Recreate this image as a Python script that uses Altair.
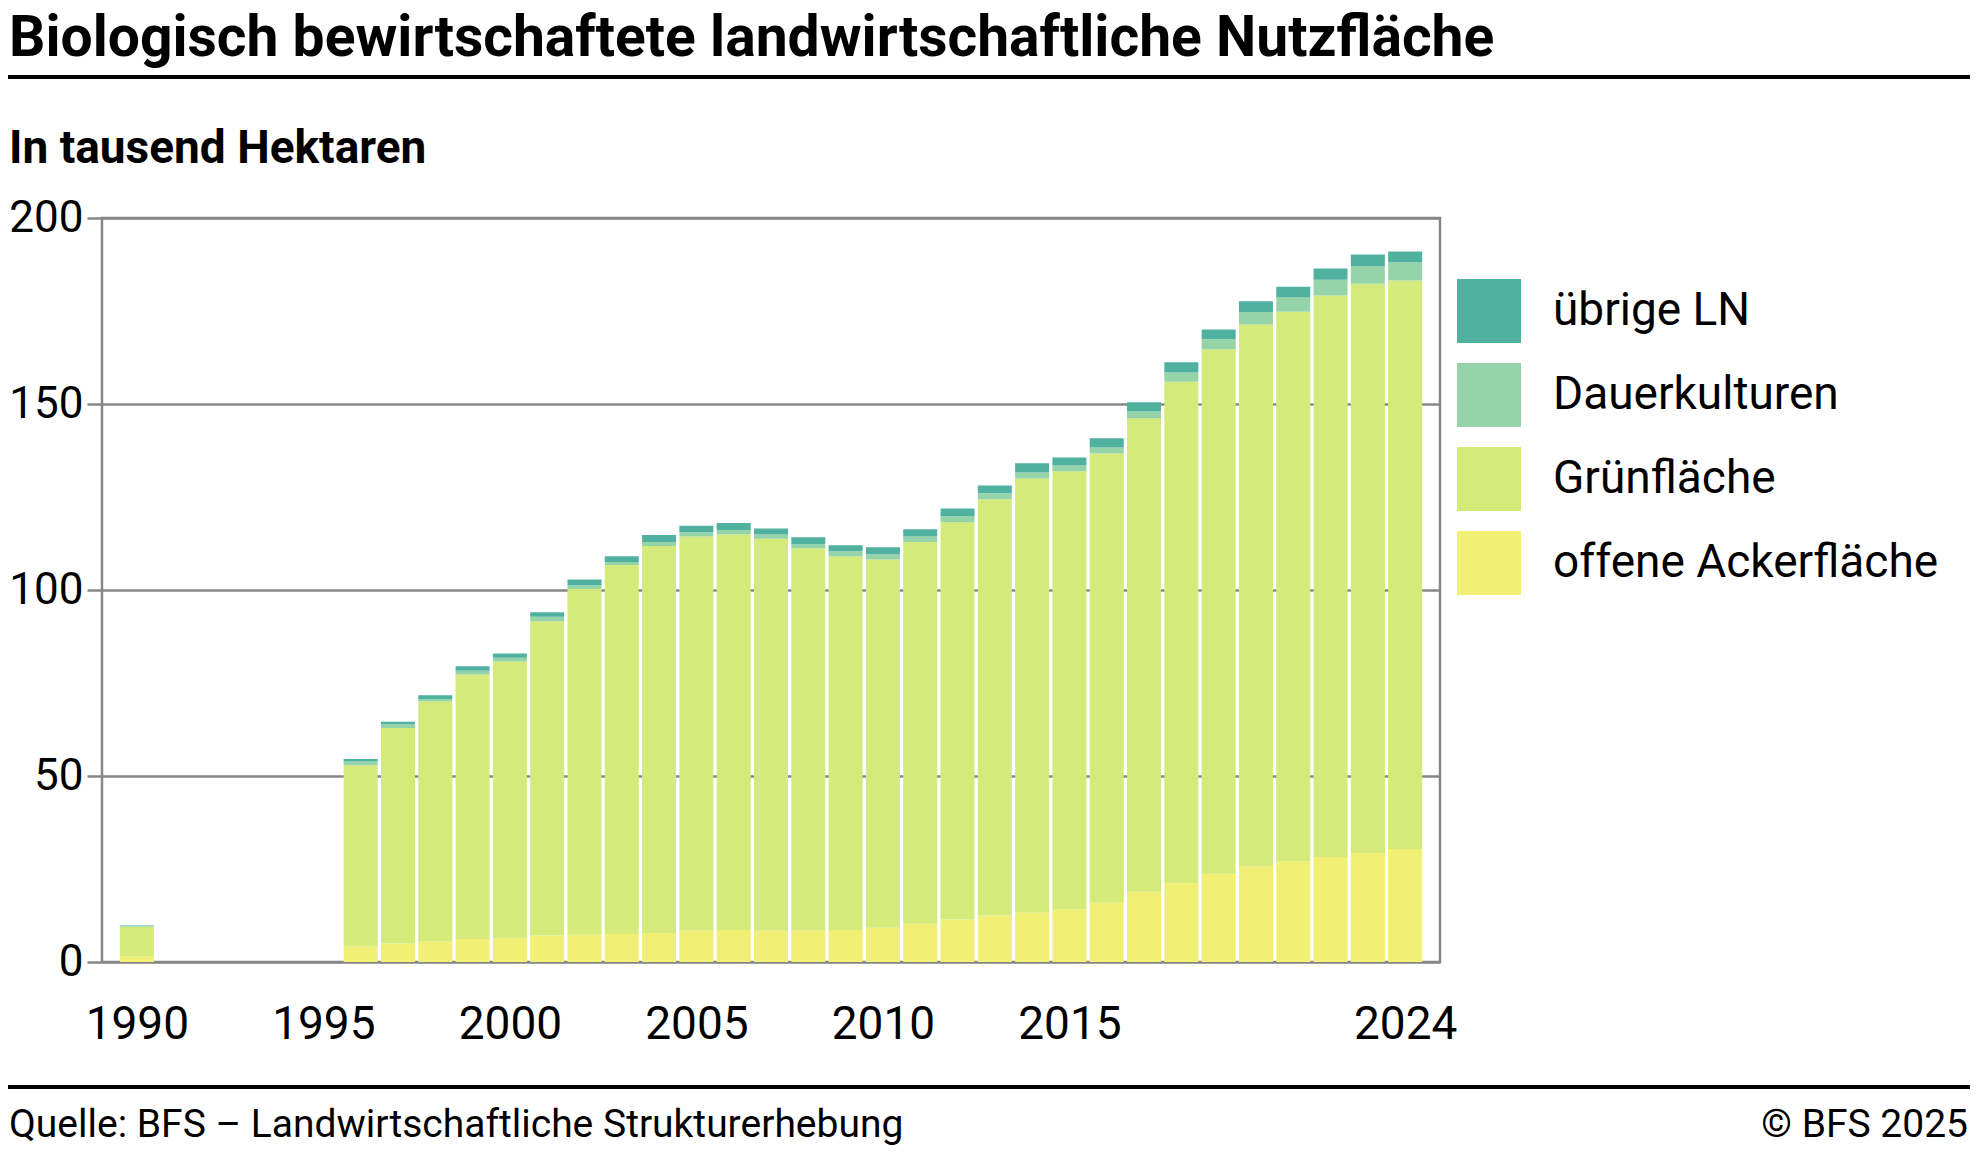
import altair as alt
import pandas as pd

# ---- data (thousand hectares) ----
years = [1990] + list(range(1996, 2025))
offene_ackerflaeche = [1.5, 4.2, 5.0, 5.5, 6.2, 6.4, 7.1, 7.3, 7.5, 7.8, 8.4, 8.6, 8.4, 8.4, 8.6,
                       9.2, 10.3, 11.4, 12.5, 13.3, 14.2, 15.9, 18.9, 21.2, 23.7, 25.6, 27.1, 28.2, 29.3, 30.4]
gruenflaeche = [8.0, 48.7, 57.9, 64.5, 71.1, 74.4, 84.5, 93.0, 99.2, 104.0, 106.0, 106.3, 105.4, 102.8, 100.4,
                99.0, 102.6, 106.8, 111.9, 116.7, 117.7, 120.8, 127.3, 134.8, 141.0, 145.8, 147.7, 151.0, 153.0, 152.8]
dauerkulturen = [0.2, 1.0, 1.0, 0.7, 1.0, 1.0, 1.2, 1.0, 0.8, 1.1, 1.1, 1.2, 1.1, 1.1, 1.4,
                 1.4, 1.5, 1.6, 1.6, 1.6, 1.6, 1.6, 1.8, 2.5, 2.7, 3.3, 3.8, 4.2, 4.7, 4.9]
uebrige_ln = [0.1, 0.7, 0.7, 1.0, 1.2, 1.1, 1.2, 1.5, 1.6, 1.9, 1.8, 1.9, 1.6, 1.9, 1.6,
              1.9, 1.9, 2.1, 2.1, 2.5, 2.1, 2.5, 2.5, 2.7, 2.6, 2.9, 2.9, 3.0, 3.2, 2.9]

categories = ["übrige LN", "Dauerkulturen", "Grünfläche", "offene Ackerfläche"]
colors = ["#51b19f", "#95d4a8", "#d4ea7a", "#f1f075"]
x_tick_values = [1990, 1995, 2000, 2005, 2010, 2015, 2024]
y_tick_values = [0, 50, 100, 150, 200]

series = {
    "offene Ackerfläche": offene_ackerflaeche,
    "Grünfläche": gruenflaeche,
    "Dauerkulturen": dauerkulturen,
    "übrige LN": uebrige_ln,
}
stack_order = {"offene Ackerfläche": 0, "Grünfläche": 1, "Dauerkulturen": 2, "übrige LN": 3}

rows = []
for name, vals in series.items():
    for yr, v in zip(years, vals):
        rows.append({"Jahr": yr, "Kategorie": name, "Wert": v, "ord": stack_order[name]})
df = pd.DataFrame(rows)

FONT = "Roboto"
GRAY = "#878787"

bars = alt.Chart(df).mark_bar(size=34).encode(
    x=alt.X("Jahr:Q",
            scale=alt.Scale(domain=[1989.2, 2024.8], nice=False, zero=False),
            axis=alt.Axis(values=x_tick_values, format="d", labelFlush=False, labelOverlap=False,
                          ticks=False, tickSize=0, domain=False, grid=False,
                          labelFontSize=46, labelFont=FONT, labelColor="black",
                          labelPadding=76, labelBaseline="alphabetic", title=None)),
    y=alt.Y("Wert:Q", stack="zero",
            scale=alt.Scale(domain=[0, 200], nice=False),
            axis=alt.Axis(values=y_tick_values, domain=False, grid=True, gridColor=GRAY, gridWidth=2.5,
                          ticks=True, tickSize=15, tickColor=GRAY, tickWidth=2.5,
                          labelFontSize=44, labelFont=FONT, labelColor="black", labelPadding=4,
                          title=None)),
    color=alt.Color("Kategorie:N",
                    scale=alt.Scale(domain=categories, range=colors),
                    legend=alt.Legend(orient="none", legendX=1355, legendY=61, title=None,
                                      symbolType="square", symbolSize=4096, symbolStrokeWidth=0,
                                      labelFontSize=46, labelFont=FONT, labelColor="black",
                                      labelOffset=32, rowPadding=20, padding=0, labelLimit=0)),
    order=alt.Order("ord:Q", sort="ascending"),
)

one = pd.DataFrame({"k": [0]})


def label(text, x, y, size, weight="normal", align="left"):
    return alt.Chart(one).mark_text(text=text, font=FONT, fontSize=size, fontWeight=weight,
                                    align=align, baseline="alphabetic", color="black").encode(
        x=alt.value(x), y=alt.value(y))


def hrule(y):
    return alt.Chart(one).mark_rule(color="black", strokeWidth=4).encode(
        x=alt.value(-94), x2=alt.value(1868), y=alt.value(y))


title = label("Biologisch bewirtschaftete landwirtschaftliche Nutzfläche", -93, -162, 57, "bold")
subtitle = label("In tausend Hektaren", -93, -55, 46, "bold")
source = label("Quelle: BFS – Landwirtschaftliche Strukturerhebung", -93, 919, 39)
copyright_ = label("© BFS 2025", 1866, 919, 39, align="right")

chart = alt.layer(bars, title, hrule(-141), subtitle, hrule(869), source, copyright_).properties(
    width=1338, height=744,
    padding={"left": 94, "top": 210, "right": 530, "bottom": 187},
    autosize=alt.AutoSizeParams(type="none"),
).configure_view(stroke=GRAY, strokeWidth=2.5)

chart.save("out.html", embed_options={"renderer": "svg", "actions": False})
